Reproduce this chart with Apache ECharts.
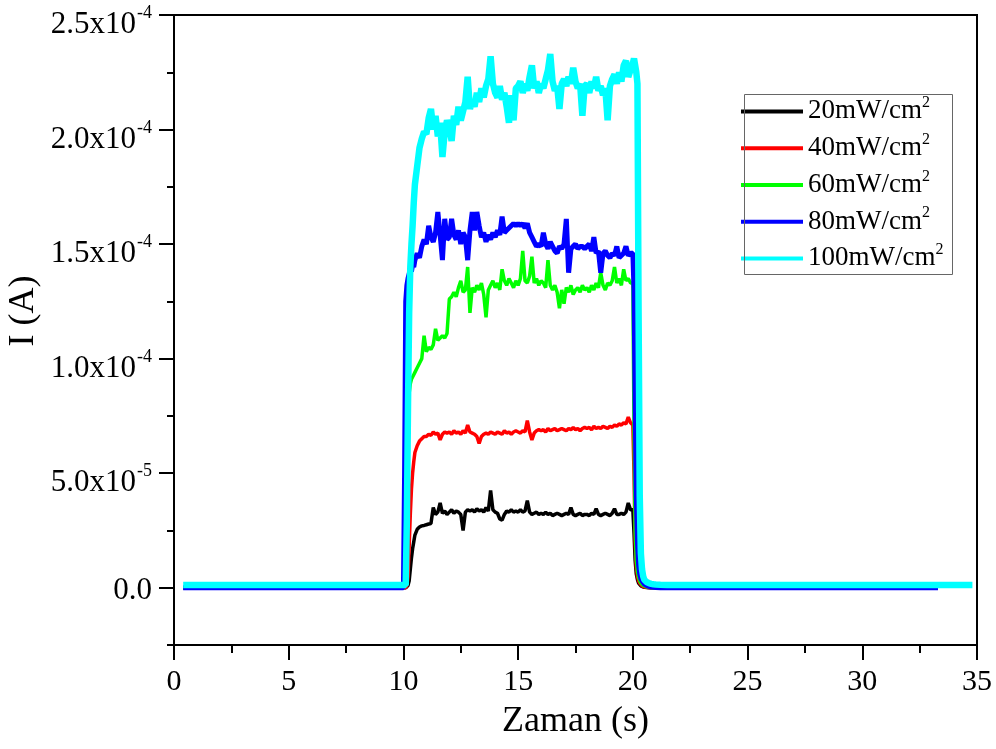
<!DOCTYPE html>
<html>
<head>
<meta charset="utf-8">
<script src="https://cdn.jsdelivr.net/npm/echarts@6/dist/echarts.min.js"></script>
<style>html,body{margin:0;padding:0;background:#fff}#c{width:996px;height:749px}</style>
</head>
<body>
<div id="c"></div>
<script>
// Time (s)
const time = [
  0.4, 2, 4, 6, 8, 9.9,
  10.0, 10.05, 10.1, 10.15, 10.2, 10.25, 10.3, 10.35, 10.4, 10.45,
  10.5, 10.6, 10.7, 10.8, 10.9,
  11.0, 11.1, 11.2, 11.3, 11.4, 11.5, 11.6, 11.7, 11.8, 11.9,
  12.0, 12.1, 12.2, 12.3, 12.4, 12.5, 12.6, 12.7, 12.8, 12.9,
  13.0, 13.1, 13.2, 13.3, 13.4, 13.5, 13.6, 13.7, 13.8, 13.9,
  14.0, 14.1, 14.2, 14.3, 14.4, 14.5, 14.6, 14.7, 14.8, 14.9,
  15.0, 15.1, 15.2, 15.3, 15.4, 15.5, 15.6, 15.7, 15.8, 15.9,
  16.0, 16.1, 16.2, 16.3, 16.4, 16.5, 16.6, 16.7, 16.8, 16.9,
  17.0, 17.1, 17.2, 17.3, 17.4, 17.5, 17.6, 17.7, 17.8, 17.9,
  18.0, 18.1, 18.2, 18.3, 18.4, 18.5, 18.6, 18.7, 18.8, 18.9,
  19.0, 19.1, 19.2, 19.3, 19.4, 19.5, 19.6, 19.7, 19.8, 19.9,
  20.0, 20.05, 20.1, 20.15, 20.2, 20.25, 20.3, 20.35, 20.4, 20.45,
  20.5, 20.6, 20.7, 20.8, 20.9, 21.0, 21.2, 21.5,
  22, 24, 26, 28, 30, 32, 33.3, 34.8
];

// Current, in units of 1e-5 A
const i20 = [
  0, 0, 0, 0, 0, 0,
  0, 0, 0, 0.05, 0.1, 0.3, 0.8, 1.3, 1.7, 2.0,
  2.3, 2.55, 2.65, 2.7, 2.72,
  2.75, 2.78, 2.8, 3.5, 3.2, 3.3, 3.7, 3.25, 3.35, 3.2,
  3.3, 3.4, 3.25, 3.35, 3.3, 3.2, 2.5, 3.3, 3.4, 3.35,
  3.4, 3.3, 3.45, 3.35, 3.4, 3.3, 3.5, 3.35, 4.25, 3.4,
  3.3, 3.25, 3.0, 2.95, 3.2, 3.35, 3.3, 3.4, 3.3, 3.35,
  3.3, 3.4, 3.3, 3.35, 3.8, 3.3, 3.2, 3.25, 3.3, 3.2,
  3.25, 3.2, 3.3, 3.2, 3.25, 3.15, 3.2, 3.25, 3.2, 3.15,
  3.2, 3.25, 3.2, 3.5, 3.2, 3.15, 3.2, 3.25, 3.15, 3.2,
  3.2, 3.15, 3.25, 3.2, 3.45, 3.2, 3.15, 3.2, 3.25, 3.2,
  3.15, 3.25, 3.45, 3.2, 3.2, 3.25, 3.2, 3.3, 3.7, 3.4,
  3.4, 2.4, 1.2, 0.6, 0.35, 0.2, 0.12, 0.08, 0.05, 0.03,
  0.02, 0.01, 0, 0, 0, 0, 0, 0,
  0, 0, 0, 0, 0, 0, 0, null
];
const i40 = [
  0, 0, 0, 0, 0, 0,
  0, 0, 0, 0.1, 0.5, 1.8, 3.2, 4.3, 5.0, 5.5,
  5.9, 6.2, 6.4, 6.5, 6.6,
  6.6, 6.7, 6.65, 6.8, 6.7, 6.75, 6.45, 6.7, 6.8, 6.75,
  6.8, 6.7, 6.85, 6.75, 6.8, 6.7, 6.85, 6.75, 7.1, 6.8,
  6.75, 6.7, 6.6, 6.3, 6.6, 6.7, 6.75, 6.7, 6.8, 6.75,
  6.7, 6.8, 6.75, 6.7, 6.85, 6.75, 6.8, 6.7, 6.8, 6.85,
  6.8, 6.75, 6.85, 6.8, 7.3, 6.8, 6.45, 6.75, 6.85, 6.9,
  6.85, 6.9, 6.8, 6.95, 6.85, 6.9, 6.95, 6.85, 6.9, 6.95,
  6.9, 6.85, 6.95, 6.9, 7.0, 6.9, 6.95, 6.85, 6.95, 7.0,
  6.95, 7.0, 6.9, 7.05, 6.95, 7.0, 6.95, 7.05, 7.0, 6.95,
  7.05, 7.0, 7.1, 7.05, 7.15, 7.1, 7.2, 7.15, 7.45, 7.2,
  7.1, 5.0, 2.0, 0.9, 0.5, 0.3, 0.2, 0.12, 0.08, 0.05,
  0.03, 0.02, 0.01, 0, 0, 0, 0, 0,
  0, 0, 0, 0, 0, 0, 0, null
];
const i60 = [
  0, 0, 0, 0, 0, 0,
  0, 0, 2, 5, 7.5, 8.5, 8.9, 9.1, 9.2, 9.3,
  9.4, 9.6, 9.8, 10.0, 11.0,
  10.3, 10.5, 10.4, 10.6, 11.3, 10.8, 10.9, 11.0, 10.9, 11.1,
  12.6, 12.7, 12.9, 12.7, 13.1, 13.4, 12.9, 13.0, 14.0, 12.0,
  13.1, 12.9, 13.2, 13.0, 13.3, 12.8, 11.8, 13.0, 13.2, 13.4,
  13.1, 13.3, 13.0, 13.9, 13.4, 13.2, 13.5, 13.3, 13.1, 13.4,
  13.2, 13.5, 14.7, 13.4, 13.3, 13.6, 14.45, 13.3, 13.5, 13.2,
  13.4, 13.3, 13.1, 14.3, 13.2, 13.0, 13.2, 12.9, 12.2, 13.0,
  12.4, 13.1, 12.9, 13.2, 12.8, 13.0, 13.1, 12.9, 13.2, 13.0,
  13.1, 12.9, 13.2, 13.0, 13.3, 13.1, 13.75, 13.2, 13.0, 13.3,
  13.2, 13.4, 14.0, 13.3, 13.5, 13.2, 13.9, 13.4, 13.5, 13.3,
  13.3, 7.0, 2.5, 1.2, 0.7, 0.45, 0.3, 0.2, 0.15, 0.1,
  0.07, 0.04, 0.02, 0.01, 0, 0, 0, 0,
  0, 0, 0, 0, 0, 0, 0, null
];
const i80 = [
  0, 0, 0, 0, 0, 0,
  0, 5, 12.5, 13.2, 13.5, 13.7, 13.9, 13.8, 14.1, 14.0,
  14.3, 14.6, 14.4, 14.9, 15.2,
  15.0, 15.8, 15.3, 15.1, 15.5, 16.4, 15.4, 14.3, 16.1, 15.2,
  15.3, 16.1, 15.4, 15.2, 15.6, 15.0, 15.5, 15.3, 14.3, 15.6,
  16.4, 15.6, 16.4, 15.8, 15.3, 15.5, 15.1, 15.4, 15.2, 15.5,
  15.3, 15.6, 15.4, 16.2, 15.5, 15.6, 15.7, 15.8, 15.9, 15.8,
  15.9, 15.8, 15.9, 15.7, 15.9, 15.5, 15.3, 15.1, 14.9, 15.0,
  14.9, 15.5, 15.0, 14.8, 15.1, 14.9, 14.7, 14.6, 14.9, 14.8,
  15.0, 16.1, 13.75, 14.8, 14.9, 15.0, 14.8, 14.9, 14.9, 14.8,
  14.9, 15.0, 14.7, 15.3, 14.6, 14.7, 13.75, 14.6, 14.7, 14.5,
  14.4, 14.6, 14.5, 14.9, 14.4, 14.5, 14.6, 14.9, 14.5, 14.6,
  14.6, 13.0, 8.0, 4.0, 2.0, 1.0, 0.6, 0.4, 0.3, 0.22,
  0.16, 0.1, 0.06, 0.03, 0.02, 0.01, 0, 0,
  0, 0, 0, 0, 0, 0, 0, null
];
const i100 = [
  0.12, 0.12, 0.12, 0.12, 0.12, 0.12,
  0.12, 0.12, 0.12, 3, 8, 12, 14, 15, 15.8, 16.8,
  17.6, 18.4, 19.2, 19.6, 19.9,
  19.8, 20.5, 20.9, 20.0, 20.6, 19.7, 20.3, 18.8, 19.9, 20.4,
  20.1, 19.5, 20.6, 20.2, 21.0, 20.4, 20.8, 21.2, 22.3, 20.9,
  21.3, 21.0, 21.6, 21.2, 21.8, 21.4, 21.9, 22.2, 23.2, 22.0,
  21.6, 21.4, 21.9, 21.3, 21.6, 21.0, 20.3, 21.5, 20.4, 21.8,
  21.9, 22.1, 21.6, 22.0, 21.7, 22.3, 22.8, 21.8, 22.1, 21.6,
  22.0, 21.8, 22.2, 22.6, 23.3, 22.1, 21.7, 21.9, 20.9, 22.0,
  22.2, 21.9, 22.3, 22.0, 22.7, 22.1, 21.8, 22.0, 20.6, 21.9,
  22.0, 21.6, 22.1, 21.8, 22.3, 21.7, 21.9, 21.5, 21.8, 20.4,
  21.9, 22.2, 22.4, 22.0, 22.5, 22.1, 22.8, 23.0, 22.3, 22.6,
  22.9, 23.1, 22.8, 22.5, 22.0, 12, 4, 1.5, 0.8, 0.5,
  0.35, 0.25, 0.2, 0.17, 0.15, 0.14, 0.13, 0.12,
  0.12, 0.12, 0.12, 0.12, 0.12, 0.12, 0.12, 0.12
];

const seriesNames = ['20mW/cm', '40mW/cm', '60mW/cm', '80mW/cm', '100mW/cm'];
const seriesSup = '2';
const xTicks = [0, 5, 10, 15, 20, 25, 30, 35];
const yMajorTicks = [0, 5, 10, 15, 20, 25];
const yMinorTicks = [-2.5, 2.5, 7.5, 12.5, 17.5, 22.5];
const yTickMantissa = ['0.0', '5.0', '1.0', '1.5', '2.0', '2.5'];
const yTickExponent = ['', '-5', '-4', '-4', '-4', '-4'];

const FONT = '"Liberation Serif", "Times New Roman", serif';
const colors = ['#000000', '#ff0000', '#00ff00', '#0000ff', '#00ffff'];
const widths = [3.5, 3.5, 3.5, 5, 6.5];
const valueSets = [i20, i40, i60, i80, i100];

const chart = echarts.init(document.getElementById('c'), null, {renderer: 'canvas'});

const series = valueSets.map((vals, k) => ({
  name: seriesNames[k],
  type: 'line',
  showSymbol: false,
  symbol: 'none',
  connectNulls: false,
  color: colors[k],
  lineStyle: {color: colors[k], width: widths[k]},
  itemStyle: {color: colors[k]},
  z: 2 + k,
  data: time.map((t, i) => [t, vals[i]])
}));

const tickStyle = {color: '#000', width: 2};

const option = {
  animation: false,
  backgroundColor: '#ffffff',
  textStyle: {fontFamily: FONT, color: '#000'},
  grid: {left: 174, top: 15, width: 803, height: 630, show: true, borderColor: '#000', borderWidth: 2,
         containLabel: false, outerBoundsMode: 'none'},
  xAxis: {
    type: 'value', min: xTicks[0], max: xTicks[xTicks.length - 1], interval: 5,
    axisLine: {onZero: false, lineStyle: {color: '#000', width: 2}},
    axisTick: {inside: false, length: 15, lineStyle: tickStyle},
    minorTick: {show: true, splitNumber: 2, length: 8, lineStyle: tickStyle},
    splitLine: {show: false},
    axisLabel: {margin: 22, fontSize: 30, color: '#000', fontFamily: FONT},
    name: 'Zaman (s)', nameLocation: 'middle', nameGap: 59,
    nameTextStyle: {fontSize: 36, fontFamily: FONT, color: '#000'}
  },
  yAxis: [
    {
      type: 'value', min: -2.5, max: 25, interval: 2.5, position: 'left',
      axisLine: {show: true, onZero: false, lineStyle: {color: '#000', width: 2}},
      axisTick: {show: true, inside: false, length: 15, customValues: yMajorTicks, lineStyle: tickStyle},
      splitLine: {show: false},
      axisLabel: {
        customValues: yMajorTicks, margin: 22, color: '#000',
        formatter: function (v) {
          const idx = yMajorTicks.indexOf(Math.round(v * 10) / 10);
          if (idx < 0) return '';
          if (!yTickExponent[idx]) return '{z|' + yTickMantissa[idx] + '}';
          return '{m|' + yTickMantissa[idx] + 'x10}{s|' + yTickExponent[idx] + '}';
        },
        rich: {
          z: {fontSize: 31, fontFamily: FONT, color: '#000', padding: [7, 0, 0, 0]},
          m: {fontSize: 31, fontFamily: FONT, color: '#000', verticalAlign: 'top', padding: [20, 0, 0, 0]},
          s: {fontSize: 18, fontFamily: FONT, color: '#000', verticalAlign: 'top', padding: [15, 0, 0, 1]}
        }
      }
    },
    {
      // minor ticks of the left axis (an inward-facing right axis moved onto the left edge)
      type: 'value', min: -2.5, max: 25, interval: 2.5, position: 'right', offset: -803,
      axisLine: {show: false, onZero: false},
      axisTick: {show: true, inside: true, length: 7, customValues: yMinorTicks, lineStyle: tickStyle},
      axisLabel: {show: false},
      splitLine: {show: false}
    }
  ],
  legend: {
    orient: 'vertical', left: 741, top: 94.9,
    itemWidth: 62, itemHeight: 4, itemGap: 6.75, icon: 'rect',
    padding: 0, borderWidth: 0,
    data: seriesNames,
    formatter: function (name) { return '{a|' + name + '}{s|' + seriesSup + '}'; },
    textStyle: {
      fontFamily: FONT, fontSize: 27, color: '#000',
      rich: {
        a: {fontSize: 27, fontFamily: FONT, color: '#000', lineHeight: 45},
        s: {fontSize: 16, fontFamily: FONT, color: '#000', verticalAlign: 'top', padding: [6, 0, 0, 0]}
      }
    }
  },
  graphic: [
    {
      type: 'rect', left: 742, top: 92, z: 100, silent: true,
      shape: {x: 0, y: 0, width: 208, height: 180},
      style: {fill: null, stroke: '#666', lineWidth: 1}
    },
    {
      type: 'text', x: 24, y: 311, rotation: Math.PI / 2,
      style: {text: 'I (A)', fontSize: 36, fontFamily: FONT, fill: '#000', align: 'center', verticalAlign: 'middle'}
    }
  ],
  series: series
};
chart.setOption(option);
</script>
</body>
</html>
